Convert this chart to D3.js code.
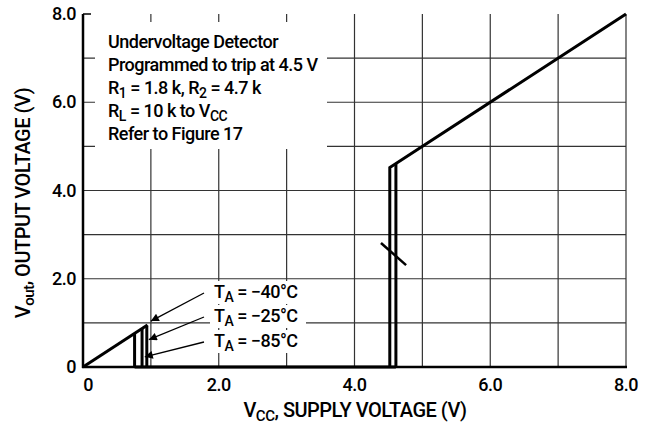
<!DOCTYPE html>
<html lang="en">
<head>
<meta charset="UTF-8">
<title>Undervoltage Detector Output</title>
<script src="https://cdnjs.cloudflare.com/ajax/libs/d3/7.9.0/d3.min.js"></script>
<style>
    body { margin: 0; background: #fff; }
    svg text { font-family: Roboto, "Liberation Sans", sans-serif; font-weight: 500; fill: #000; letter-spacing: -0.5px; }
    .tick-label { font-size: 18px; }
    .title { font-size: 20px; }
    .note { font-size: 18px; }
</style>
</head>
<body>
<div id="chart"></div>
<script>
    // axis ticks
    const xTicks = [0, 2, 4, 6, 8];
    const xTickLabels = ["0", "2.0", "4.0", "6.0", "8.0"];
    const yTicks = [0, 2, 4, 6, 8];
    const yTickLabels = ["0", "2.0", "4.0", "6.0", "8.0"];
    const gridX = [1, 2, 3, 4, 5, 6, 7, 8];
    const gridY = [1, 2, 3, 4, 5, 6, 7];

    // low-voltage region: output follows Vcc then drops to 0 (one drop per temperature)
    const lowRise = [[0, 0], [0.95, 0.95]];
    const lowDrop = [0.76, 0.87, 0.94];
    // trip region: output pulled up to Vcc above threshold
    const tripVcc = [4.52, 4.61];
    const highRise = [[4.52, 4.52], [8, 8]];
    const zeroLine = [[0.76, 0], [4.61, 0]];
    const hystMark = [[4.39, 2.81], [4.76, 2.31]];

    const tempLabels = ["−40°C", "−25°C", "−85°C"];
    const arrowTips = [[1.0, 1.04], [0.97, 0.62], [0.91, 0.23]];

    const width = 648, height = 431;
    const margin = { top: 14, right: 22, bottom: 64, left: 83 };

    const svg = d3.select("#chart").append("svg")
        .attr("width", width).attr("height", height);

    const x = d3.scaleLinear().domain([0, 8]).range([margin.left, width - margin.right]);
    const y = d3.scaleLinear().domain([0, 8]).range([height - margin.bottom, margin.top]);

    svg.append("defs").append("marker")
        .attr("id", "arr").attr("viewBox", "0 0 10 10")
        .attr("refX", 10).attr("refY", 5)
        .attr("markerWidth", 12).attr("markerHeight", 8)
        .attr("markerUnits", "userSpaceOnUse")
        .attr("orient", "auto")
        .append("path").attr("d", "M0,0L10,5L0,10z").attr("fill", "#000");

    // grid
    svg.append("g").selectAll("line").data(gridX).join("line")
        .attr("x1", d => x(d)).attr("x2", d => x(d))
        .attr("y1", y(0)).attr("y2", y(8))
        .attr("stroke", "#333").attr("stroke-width", 1.2);
    svg.append("g").selectAll("line").data(gridY).join("line")
        .attr("x1", x(0)).attr("x2", x(8))
        .attr("y1", d => y(d)).attr("y2", d => y(d))
        .attr("stroke", "#333").attr("stroke-width", 1.2);
    svg.append("line")
        .attr("x1", x(0)).attr("x2", x(0) + 8)
        .attr("y1", y(8)).attr("y2", y(8))
        .attr("stroke", "#000").attr("stroke-width", 1.5);

    // axes
    svg.append("line")
        .attr("x1", x(0)).attr("x2", x(0))
        .attr("y1", y(0) + 1).attr("y2", y(8))
        .attr("stroke", "#000").attr("stroke-width", 2.5);
    svg.append("line")
        .attr("x1", x(0) - 1).attr("x2", x(8) + 1)
        .attr("y1", y(0)).attr("y2", y(0))
        .attr("stroke", "#000").attr("stroke-width", 2.5);

    // text box
    svg.append("rect")
        .attr("x", 95).attr("y", 22).attr("width", 232).attr("height", 127)
        .attr("fill", "#fff");
    const note = svg.append("text").attr("class", "note").attr("x", 108);
    note.append("tspan").attr("x", 108).attr("y", 48).text("Undervoltage Detector");
    note.append("tspan").attr("x", 108).attr("y", 71).text("Programmed to trip at 4.5 V");
    const l3 = note.append("tspan").attr("x", 108).attr("y", 94);
    l3.append("tspan").text("R");
    l3.append("tspan").attr("dy", 4).style("font-size", "14px").text("1");
    l3.append("tspan").attr("dy", -4).text(" = 1.8 k, R");
    l3.append("tspan").attr("dy", 4).style("font-size", "14px").text("2");
    l3.append("tspan").attr("dy", -4).text(" = 4.7 k");
    const l4 = note.append("tspan").attr("x", 108).attr("y", 117);
    l4.append("tspan").text("R");
    l4.append("tspan").attr("dy", 4).style("font-size", "14px").text("L");
    l4.append("tspan").attr("dy", -4).text(" = 10 k to V");
    l4.append("tspan").attr("dy", 4).style("font-size", "14px").text("CC");
    note.append("tspan").attr("x", 108).attr("y", 140).text("Refer to Figure 17");

    // curves
    const line = d3.line().x(d => x(d[0])).y(d => y(d[1]));
    const curves = svg.append("g").attr("fill", "none").attr("stroke", "#000")
        .attr("stroke-width", 3).attr("stroke-linejoin", "miter");
    curves.append("path").attr("d", line(lowRise));
    lowDrop.forEach(v => curves.append("path").attr("d", line([[v, v], [v, 0]])));
    curves.append("path").attr("d", line(zeroLine));
    curves.append("path").attr("d", line([[tripVcc[0], 0], ...highRise]));
    curves.append("path").attr("d", line([[tripVcc[1], 0], [tripVcc[1], tripVcc[1]]]));
    curves.append("path").attr("d", line(hystMark)).attr("stroke-width", 2.5);

    // temperature labels with arrows
    const labY = [298, 322, 347];
    tempLabels.forEach((t, i) => {
        const g = svg.append("g");
        g.append("rect").attr("x", 210).attr("y", labY[i] - 17)
            .attr("width", 96).attr("height", 23).attr("fill", "#fff");
        const tx = g.append("text").attr("class", "note").attr("x", 214).attr("y", labY[i]);
        tx.append("tspan").text("T");
        tx.append("tspan").attr("dy", 4).style("font-size", "14px").text("A");
        tx.append("tspan").attr("dy", -4).text(" = " + t);
        g.append("line")
            .attr("x1", 204).attr("y1", labY[i] - 5)
            .attr("x2", x(arrowTips[i][0])).attr("y2", y(arrowTips[i][1]))
            .attr("stroke", "#000").attr("stroke-width", 1.3)
            .attr("marker-end", "url(#arr)");
    });

    // tick labels
    svg.append("g").selectAll("text").data(xTicks).join("text")
        .attr("class", "tick-label")
        .attr("x", d => x(d) + (d === 0 ? 5 : 0)).attr("y", y(0) + 24)
        .attr("text-anchor", "middle")
        .text((d, i) => xTickLabels[i]);
    svg.append("g").selectAll("text").data(yTicks).join("text")
        .attr("class", "tick-label")
        .attr("x", x(0) - 7).attr("y", d => y(d) + 6)
        .attr("text-anchor", "end")
        .text((d, i) => yTickLabels[i]);

    // axis titles
    const xt = svg.append("text").attr("class", "title")
        .attr("x", 355).attr("y", 417).attr("text-anchor", "middle");
    xt.append("tspan").text("V");
    xt.append("tspan").attr("dy", 4).style("font-size", "15px").text("CC");
    xt.append("tspan").attr("dy", -4).text(", SUPPLY VOLTAGE (V)");

    const yt = svg.append("text").attr("class", "title")
        .attr("transform", "translate(30,203) rotate(-90)").attr("text-anchor", "middle");
    yt.append("tspan").text("V");
    yt.append("tspan").attr("dy", 4).style("font-size", "15px").text("out");
    yt.append("tspan").attr("dy", -4).text(", OUTPUT VOLTAGE (V)");
</script>
</body>
</html>
